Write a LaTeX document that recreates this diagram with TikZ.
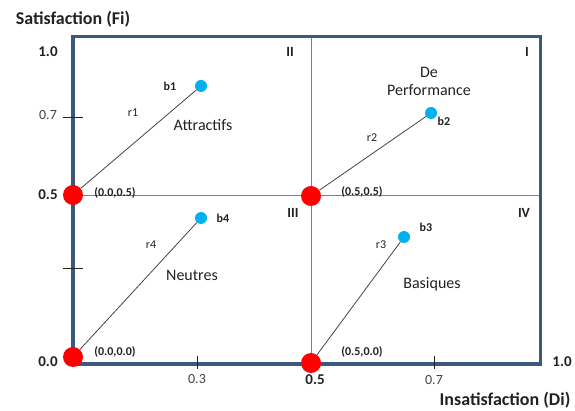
\documentclass[tikz,border=0pt]{standalone}
\usepackage{fontspec}
\setmainfont{Carlito}
\usetikzlibrary{calc, positioning}
\definecolor{frame}{RGB}{59, 88, 126}
\definecolor{grid}{RGB}{94, 133, 186}
\definecolor{pt}{RGB}{255, 0, 0}
\definecolor{sky}{RGB}{0, 176, 240}
\definecolor{g}{HTML}{444444}
\definecolor{b}{HTML}{222222}

\begin{document}
\begin{tikzpicture}[x=1pt, y=-1pt,
	origin/.style={circle, fill=pt, inner sep=0pt, minimum size=20pt},
	target/.style={circle, fill=sky, inner sep=0pt, minimum size=12pt},
	tag/.style={text=b, font=\fontsize{12}{14}\selectfont\bfseries},
	ray/.style={text=b, font=\fontsize{12}{14}\selectfont},
	zone/.style={text=b, font=\fontsize{16}{18}\selectfont, align=center},
	quad/.style={text=b, font=\fontsize{14}{16}\selectfont\bfseries},
	val/.style={text=b, font=\fontsize{15}{17}\selectfont\bfseries},
	sub/.style={text=g, font=\fontsize{14}{16}\selectfont}
]
			\useasboundingbox (0, 0) rectangle (575, 411);

			\coordinate (O) at (73, 364);
			\coordinate (TL) at (73, 37);
			\coordinate (TR) at (540, 37);
			\coordinate (BR) at (540, 364);
			\coordinate (Mt) at (311, 37);
			\coordinate (Mb) at (311, 364);
			\coordinate (Ml) at (73, 196);
			\coordinate (Mr) at (540, 196);

			\draw[grid, line width=1pt] (Mt) -- (Mb);
			\draw[grid, line width=1pt] (Ml) -- (Mr);
			\draw[frame, line width=3pt] (TL) -- (TR) -- (BR);
			\draw[frame, line width=4pt, line cap=rect] (TL) -- (O) -- (BR);

			% ticks
			\draw[b, thick] (63, 117) -- (83, 117);
			\draw[b, thick] (63, 268) -- (83, 268);
			\draw[b, thick] (197, 356) -- (197, 369);
			\draw[b, thick] (434, 356) -- (434, 369);

			\node[origin] (p1) at (73, 195) {};
			\node[origin] (p2) at (311, 196) {};
			\node[origin] (p3) at (311, 363) {};
			\node[origin] (p4) at (73, 357) {};

			\node[target] (b1) at (201, 86) {};
			\node[target] (b2) at (431, 113) {};
			\node[target] (b3) at (404, 237) {};
			\node[target] (b4) at (201, 218) {};

			\draw[g, line width=0.8pt] (p1) -- (b1);
			\draw[g, line width=0.8pt] (p2) -- (b2);
			\draw[g, line width=0.8pt] (p3) -- (b3);
			\draw[g, line width=0.8pt] (p4) -- (b4);

			\node[tag] (lb1) at (170, 86) {b1};
			\node[tag] (lb2) at (444, 121) {b2};
			\node[tag] (lb3) at (426, 227) {b3};
			\node[tag] (lb4) at (223, 218) {b4};

			\node[ray] (lr1) at (133, 113) {r1};
			\node[ray] (lr2) at (372, 138) {r2};
			\node[ray] (lr3) at (381, 245) {r3};
			\node[ray] (lr4) at (151, 245) {r4};

			\node[tag] (c1) at (115, 193) {(0.0,0.5)};
			\node[tag] (c2) at (362, 192) {(0.5,0.5)};
			\node[tag] (c3) at (362, 352) {(0.5,0.0)};
			\node[tag] (c4) at (115, 352) {(0.0,0.0)};

			\node[zone] (attr) at (203, 125) {Attractifs};
			\node[zone] (perf) at (429, 81) {De\\Performance};
			\node[zone] (bas) at (432, 284) {Basiques};
			\node[zone] (neut) at (192, 275) {Neutres};

			\node[quad] (q1) at (527, 52) {I};
			\node[quad] (q2) at (290, 52) {II};
			\node[quad] (q3) at (293, 213) {III};
			\node[quad] (q4) at (524, 213) {IV};

			\node[val] (y10) at (48, 52) {1.0};
			\node[sub] (y07) at (48, 115) {0.7};
			\node[val] (y05) at (48, 195) {0.5};
			\node[val] (y00) at (48, 362) {0.0};

			\node[sub] (x03) at (197, 379) {0.3};
			\node[val] (x05) at (315, 380) {0.5};
			\node[sub] (x07) at (434, 380) {0.7};
			\node[val] (x10) at (562, 362) {1.0};

			\node[font=\fontsize{18}{20}\selectfont\bfseries, text=b] (ylab) at (73, 19) {Satisfaction (Fi)};
			\node[font=\fontsize{18}{20}\selectfont\bfseries, text=b] (xlab) at (505, 400) {Insatisfaction (Di)};

		\end{tikzpicture}
\end{document}
